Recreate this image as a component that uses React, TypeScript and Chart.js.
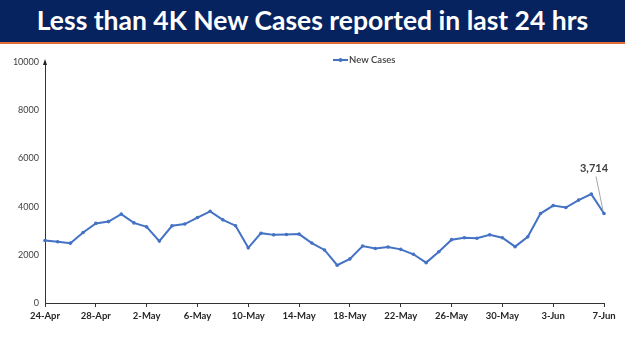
import React, { useEffect, useRef } from "react";
import { Chart, registerables } from "chart.js";

Chart.register(...registerables);

const titleText = "Less than 4K New Cases reported in last 24 hrs";
const seriesName = "New Cases";

const dates = [
  "24-Apr", "25-Apr", "26-Apr", "27-Apr", "28-Apr", "29-Apr", "30-Apr",
  "1-May", "2-May", "3-May", "4-May", "5-May", "6-May", "7-May", "8-May", "9-May",
  "10-May", "11-May", "12-May", "13-May", "14-May", "15-May", "16-May", "17-May",
  "18-May", "19-May", "20-May", "21-May", "22-May", "23-May", "24-May", "25-May",
  "26-May", "27-May", "28-May", "29-May", "30-May", "31-May",
  "1-Jun", "2-Jun", "3-Jun", "4-Jun", "5-Jun", "6-Jun", "7-Jun",
];

const newCases = [
  2593, 2541, 2483, 2927, 3303, 3377, 3688,
  3324, 3157, 2568, 3205, 3275, 3545, 3805, 3451, 3207,
  2288, 2897, 2827, 2841, 2858, 2487, 2202, 1569,
  1829, 2364, 2259, 2323, 2226, 2022, 1675, 2124,
  2628, 2710, 2685, 2828, 2706, 2338,
  2745, 3712, 4041, 3962, 4270, 4518, 3714,
];

const yMin = 0;
const yMax = 10000;
const yStep = 2000;
const labelEvery = 4;
const annotatedIndex = newCases.length - 1;

const lineColor = "#4472C4";

const extrasPlugin = {
  id: "extras",
  afterDraw(chart: any) {
    const ctx = chart.ctx;
    const area = chart.chartArea;
    ctx.save();
    // arrow on top of y axis
    ctx.fillStyle = "#222";
    ctx.beginPath();
    ctx.moveTo(area.left, area.top - 3);
    ctx.lineTo(area.left - 2, area.top + 3);
    ctx.lineTo(area.left + 2, area.top + 3);
    ctx.closePath();
    ctx.fill();

    // legend
    const lx = 333;
    const ly = 60;
    ctx.strokeStyle = lineColor;
    ctx.lineWidth = 2;
    ctx.beginPath();
    ctx.moveTo(lx, ly);
    ctx.lineTo(lx + 15, ly);
    ctx.stroke();
    ctx.fillStyle = lineColor;
    ctx.beginPath();
    ctx.arc(lx + 7.5, ly, 2, 0, Math.PI * 2);
    ctx.fill();
    ctx.fillStyle = "#404040";
    ctx.font = "600 9.5px Lato";
    ctx.textBaseline = "middle";
    ctx.textAlign = "left";
    ctx.fillText(seriesName, lx + 16, ly);

    // annotation of last value
    const pt = chart.getDatasetMeta(0).data[annotatedIndex];
    if (pt) {
      ctx.strokeStyle = "#a6a6a6";
      ctx.lineWidth = 1;
      ctx.beginPath();
      ctx.moveTo(pt.x - 8, pt.y - 37);
      ctx.lineTo(pt.x - 1, pt.y - 3);
      ctx.stroke();
      ctx.fillStyle = "#404040";
      ctx.font = "bold 11px Lato";
      ctx.textAlign = "center";
      ctx.textBaseline = "middle";
      ctx.fillText(newCases[annotatedIndex].toLocaleString("en-US"), pt.x - 10, pt.y - 45);
    }
    ctx.restore();
  },
};

export default function App() {
  const canvasRef = useRef<HTMLCanvasElement | null>(null);

  useEffect(() => {
    if (!canvasRef.current) return;
    const chart = new Chart(canvasRef.current, {
      type: "line",
      data: {
        labels: dates,
        datasets: [
          {
            label: seriesName,
            data: newCases,
            borderColor: lineColor,
            backgroundColor: lineColor,
            borderWidth: 2,
            pointRadius: 1.8,
            pointBackgroundColor: lineColor,
            pointBorderWidth: 0,
            tension: 0,
          },
        ],
      },
      options: {
        responsive: false,
        animation: false,
        layout: { padding: { top: 62, right: 21, bottom: 0, left: 0 } },
        plugins: {
          legend: { display: false },
          tooltip: { enabled: false },
          title: { display: false },
        },
        scales: {
          x: {
            offset: false,
            afterFit: (scale: any) => {
              scale.height = 48;
            },
            grid: {
              drawOnChartArea: false,
              drawTicks: true,
              tickLength: 4,
              color: "#333",
            },
            border: { display: true, color: "#333", width: 1 },
            ticks: {
              autoSkip: false,
              maxRotation: 0,
              minRotation: 0,
              padding: 3,
              color: "#262626",
              font: { family: "Lato", size: 9.5, weight: "bold" },
              callback: (_v: any, i: number) => (i % labelEvery === 0 ? dates[i] : null),
            },
          },
          y: {
            min: yMin,
            max: yMax,
            afterFit: (scale: any) => {
              scale.width = 45;
            },
            grid: { display: false, drawTicks: false },
            border: { display: true, color: "#333", width: 1 },
            ticks: {
              stepSize: yStep,
              padding: 6,
              color: "#404040",
              font: { family: "Lato", size: 9 },
              callback: (v: any) => String(v),
            },
          },
        },
      },
      plugins: [extrasPlugin],
    });
    return () => chart.destroy();
  }, []);

  return (
    <div
      style={{
        position: "fixed",
        left: 0,
        top: 0,
        width: 625,
        height: 351,
        background: "#ffffff",
        overflow: "hidden",
      }}
    >
      <canvas
        ref={canvasRef}
        width={625}
        height={351}
        style={{ position: "absolute", left: 0, top: 0, width: 625, height: 351 }}
      />
      <div
        style={{
          position: "absolute",
          left: 0,
          top: 0,
          width: 625,
          height: 42,
          background: "#06225f",
          borderBottom: "2px solid #e36c36",
          color: "#ffffff",
          fontFamily: "Lato, sans-serif",
          fontWeight: 700,
          fontSize: 26.5,
          lineHeight: "40px",
          textAlign: "center",
          whiteSpace: "nowrap",
        }}
      >
        {titleText}
      </div>
    </div>
  );
}
